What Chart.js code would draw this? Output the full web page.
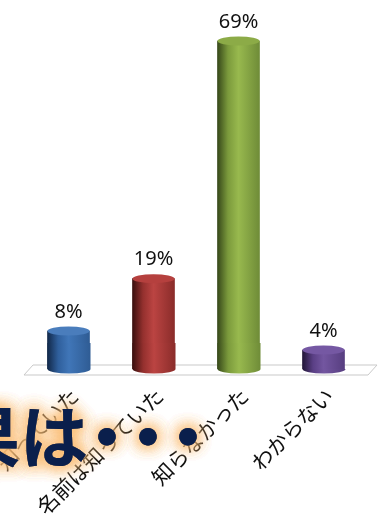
<!DOCTYPE html>
<html>
<head>
<meta charset="utf-8">
<style>
  html, body { margin: 0; padding: 0; background: #fff; }
  #wrap { width: 382px; height: 519px; overflow: hidden; }
</style>
</head>
<body>
<div id="wrap"><canvas id="chart"></canvas></div>
<script src="https://cdn.jsdelivr.net/npm/chart.js@4"></script>
<script>
var categories = ["知っていた", "名前は知っていた", "知らなかった", "わからない"];
var percents = [8, 19, 69, 4];
var sideColors = [
  ["#12294a", "#2f5f9c", "#4076b8", "#2f5c94"],
  ["#3a0f0e", "#94302e", "#bb4442", "#8a2c2a"],
  ["#37491a", "#7b9a3c", "#98b94e", "#6f8c38"],
  ["#221638", "#5a3f85", "#7356a0", "#573e80"]
];
var capColors = ["#4a7dbc", "#b5403e", "#8cab47", "#7558a3"];
var headline = "結果は";
var headlineDot = "・";

var canvas = document.getElementById("chart");
var ctx = canvas.getContext("2d");

function sideGradient(c, x, w, stops) {
  var g = c.createLinearGradient(x - w / 2, 0, x + w / 2, 0);
  g.addColorStop(0, stops[0]);
  g.addColorStop(0.25, stops[1]);
  g.addColorStop(0.5, stops[2]);
  g.addColorStop(1, stops[3]);
  return g;
}

// floor under the bars, drawn behind the cylinders
var floorPlugin = {
  id: "floor",
  beforeDatasetsDraw: function (chart) {
    var c = chart.ctx, a = chart.chartArea;
    c.save();
    c.strokeStyle = "#c9c9c9";
    c.lineWidth = 1;
    c.beginPath();
    c.moveTo(a.left - 2, a.bottom + 6);
    c.lineTo(a.left + 7, a.bottom - 4);
    c.lineTo(a.right + 11, a.bottom - 4);
    c.lineTo(a.right + 2, a.bottom + 6);
    c.closePath();
    c.stroke();
    c.restore();
  }
};

// rounded ends, lower collar and value labels for each bar
var cylinderPlugin = {
  id: "cylinder",
  afterDatasetsDraw: function (chart) {
    var c = chart.ctx;
    chart.getDatasetMeta(0).data.forEach(function (bar, i) {
      var w = bar.width, rx = w / 2, ry = 4.5, collar = 26;
      c.save();
      c.fillStyle = sideGradient(c, bar.x + 0.5, w + 1, sideColors[i]);
      if (bar.base - bar.y > collar) {
        c.fillRect(bar.x - rx, bar.base - collar, w + 1, collar);
      }
      c.beginPath();
      c.ellipse(bar.x + 0.5, bar.base, rx + 0.5, ry, 0, 0, Math.PI);
      c.fill();
      c.fillStyle = capColors[i];
      c.beginPath();
      c.ellipse(bar.x, bar.y, rx, ry, 0, 0, Math.PI * 2);
      c.fill();
      c.fillStyle = "#111";
      c.font = "20px 'Noto Sans'";
      c.textAlign = "center";
      c.textBaseline = "bottom";
      c.fillText(percents[i] + "%", bar.x, bar.y - 9);
      c.restore();
    });
  }
};

// big caption with an orange glow, sits over the axis labels
var headlinePlugin = {
  id: "headline",
  afterDraw: function (chart) {
    var c = chart.ctx;
    function glowText(text, x, y, align) {
      c.textAlign = align;
      c.shadowColor = "rgba(250, 190, 120, 0.85)";
      c.shadowBlur = 16;
      c.fillStyle = "#0a1f4c";
      for (var n = 0; n < 4; n++) c.fillText(text, x, y);
    }
    c.save();
    c.font = "bold 68px 'Noto Sans CJK JP'";
    c.textBaseline = "middle";
    var spots = [107, 148, 188];
    glowText(headline, 88, 437, "right");
    spots.forEach(function (x) { glowText(headlineDot, x, 437, "center"); });
    c.restore();
  }
};

new Chart(ctx, {
  type: "bar",
  data: {
    labels: categories,
    datasets: [{
      data: percents,
      barThickness: 42,
      backgroundColor: function (context) {
        var i = context.dataIndex;
        var sc = context.chart.scales.x;
        var x = sc ? sc.getPixelForValue(i) : NaN;
        if (!isFinite(x)) return capColors[i];
        return sideGradient(context.chart.ctx, x, 42, sideColors[i]);
      }
    }]
  },
  options: {
    responsive: true,
    maintainAspectRatio: false,
    animation: false,
    layout: { padding: { top: 3, left: 26, right: 16, bottom: 0 } },
    plugins: { legend: { display: false }, tooltip: { enabled: false } },
    scales: {
      y: { display: false, min: 0, max: 77 },
      x: {
        grid: { display: false },
        border: { display: false },
        afterFit: function (scale) {
          scale.height = 150;
          scale.paddingLeft = 0;
          scale.paddingRight = 0;
        },
        ticks: {
          minRotation: 45,
          maxRotation: 45,
          padding: 6,
          labelOffset: 6,
          color: "#111",
          autoSkip: false,
          font: { family: "'Noto Sans CJK JP'", size: 21, weight: "400" }
        }
      }
    }
  },
  plugins: [floorPlugin, cylinderPlugin, headlinePlugin]
});
</script>
</body>
</html>
